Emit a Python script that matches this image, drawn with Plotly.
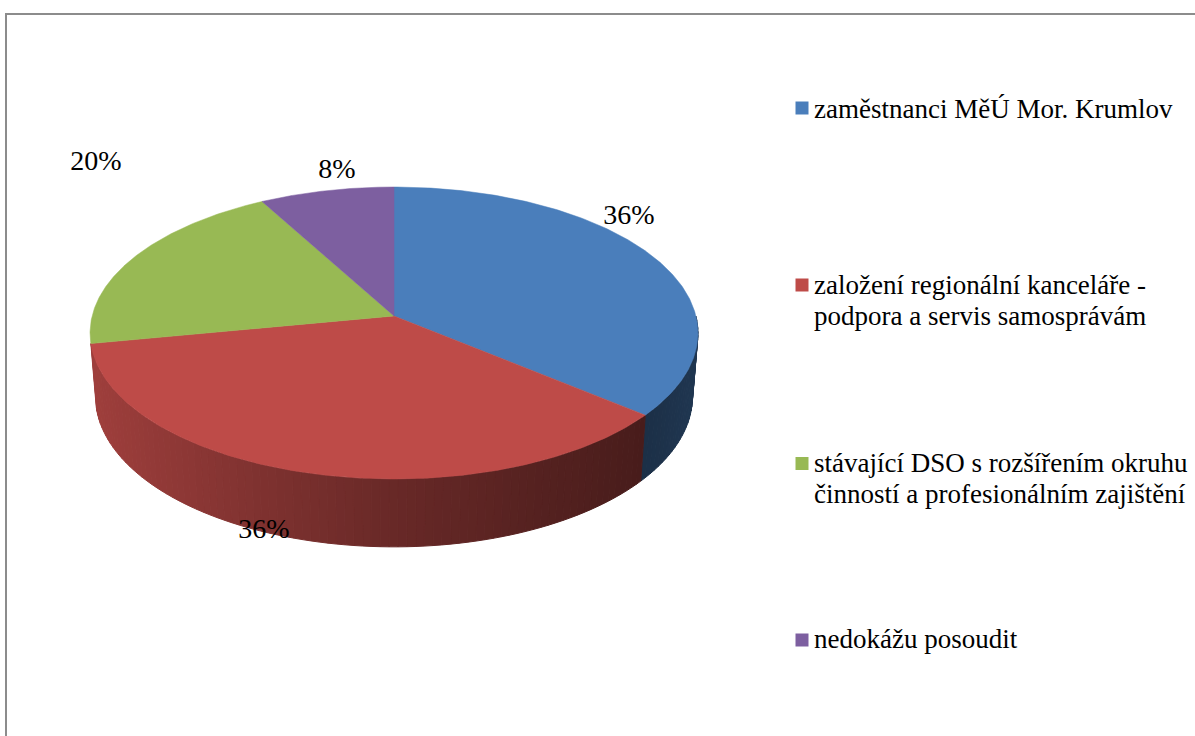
import numpy as np
import plotly.graph_objects as go

# ---- data ----
categories = [
    "zaměstnanci MěÚ Mor. Krumlov",
    "založení regionální kanceláře -<br>podpora a servis samosprávám",
    "stávající DSO s rozšířením okruhu<br>činností a profesionálním zajištění",
    "nedokážu posoudit",
]
values = [36, 36, 20, 8]

# ---- styling ----
colors = ["#4a7ebb", "#be4b48", "#98b954", "#7d5fa0"]
FONT = "Liberation Serif"
label_pos = [(629, 217), (264, 531), (96, 163), (337, 171)]
legend_marker_x = 802
legend_marker_y = [108, 285, 463.5, 640]
legend_text_y = [111, 287, 465, 641]
legend_line_gap = 31
legend_text_x = 814

# projection of the pie disc (perspective view of a unit circle)
CX, CY, A, B, P = 394, 316, 301.9, 144.0, 0.1164
DEPTH, BOTTOM_SX, BOTTOM_SY = 63, 0.982, 1.03


def project(theta_deg, bottom=False):
    t = np.radians(theta_deg)
    u, v = np.sin(t), -np.cos(t)
    d = 1 - P * v
    x, y = A * u / d, B * v / d
    if bottom:
        return CX + BOTTOM_SX * x, CY + DEPTH + BOTTOM_SY * y
    return CX + x, CY + y


def shade(color, x):
    f = np.interp(x, [90, 250, 394, 645, 700], [0.84, 0.68, 0.55, 0.38, 0.44])
    rgb = [int(color[i:i + 2], 16) for i in (1, 3, 5)]
    return "rgb({},{},{})".format(*[int(c * f) for c in rgb])


fig = go.Figure()
shares = np.array(values, dtype=float) / sum(values)
edges = np.concatenate([[0], np.cumsum(shares) * 360])

# side wall: only the two front slices show one
for i, color in enumerate(colors[:2]):
    a0, a1 = max(edges[i], 90), edges[i + 1]
    n = max(2, int((a1 - a0) / 1.5))
    cuts = np.linspace(a0, a1, n + 1)
    for s0, s1 in zip(cuts[:-1], cuts[1:]):
        th = np.linspace(s0, s1, 4)
        tx, ty = project(th)
        bx, by = project(th[::-1], bottom=True)
        xs = np.concatenate([tx, bx, tx[:1]])
        ys = np.concatenate([ty, by, ty[:1]])
        c = shade(color, xs.mean())
        fig.add_trace(go.Scatter(
            x=xs, y=ys, mode="lines", fill="toself", fillcolor=c,
            line=dict(color=c, width=1), hoverinfo="skip", showlegend=False))

# top face wedges
for i, color in enumerate(colors):
    th = np.linspace(edges[i], edges[i + 1], 200)
    ex, ey = project(th)
    xs = np.concatenate([[CX], ex, [CX]])
    ys = np.concatenate([[CY], ey, [CY]])
    fig.add_trace(go.Scatter(
        x=xs, y=ys, mode="lines", fill="toself", fillcolor=color,
        line=dict(color=color, width=0.5), name=categories[i].replace("<br>", " "),
        hoverinfo="name", showlegend=False))

# percentage labels
fig.add_trace(go.Scatter(
    x=[p[0] for p in label_pos], y=[p[1] for p in label_pos],
    mode="text", text=[f"{v}%" for v in values], textposition="middle center",
    textfont=dict(family=FONT, size=28, color="#000000"),
    hoverinfo="skip", showlegend=False))

# legend
fig.add_trace(go.Scatter(
    x=[legend_marker_x] * 4, y=legend_marker_y, mode="markers",
    marker=dict(symbol="square", size=13, color=colors),
    hoverinfo="skip", showlegend=False))
line_text, line_y = [], []
for name, y in zip(categories, legend_text_y):
    for k, part in enumerate(name.split("<br>")):
        line_text.append(part)
        line_y.append(y + k * legend_line_gap)
fig.add_trace(go.Scatter(
    x=[legend_text_x] * len(line_text), y=line_y, mode="text", text=line_text,
    textposition="middle right",
    textfont=dict(family=FONT, size=27, color="#000000"),
    hoverinfo="skip", showlegend=False))

fig.update_layout(
    width=1195, height=736, margin=dict(l=0, r=0, t=0, b=0),
    paper_bgcolor="white", plot_bgcolor="white",
    xaxis=dict(range=[0, 1195], visible=False, fixedrange=True),
    yaxis=dict(range=[736, 0], visible=False, fixedrange=True),
    shapes=[
        dict(type="line", xref="x", yref="y", x0=6, x1=6, y0=14, y1=736,
             line=dict(color="#8c8c8c", width=2)),
        dict(type="line", xref="x", yref="y", x0=5, x1=1195, y0=14, y1=14,
             line=dict(color="#8c8c8c", width=2)),
    ],
)
fig.write_html("out.html", config={"displayModeBar": False},
               post_script="document.body.style.margin='0';document.body.style.overflow='hidden';")
